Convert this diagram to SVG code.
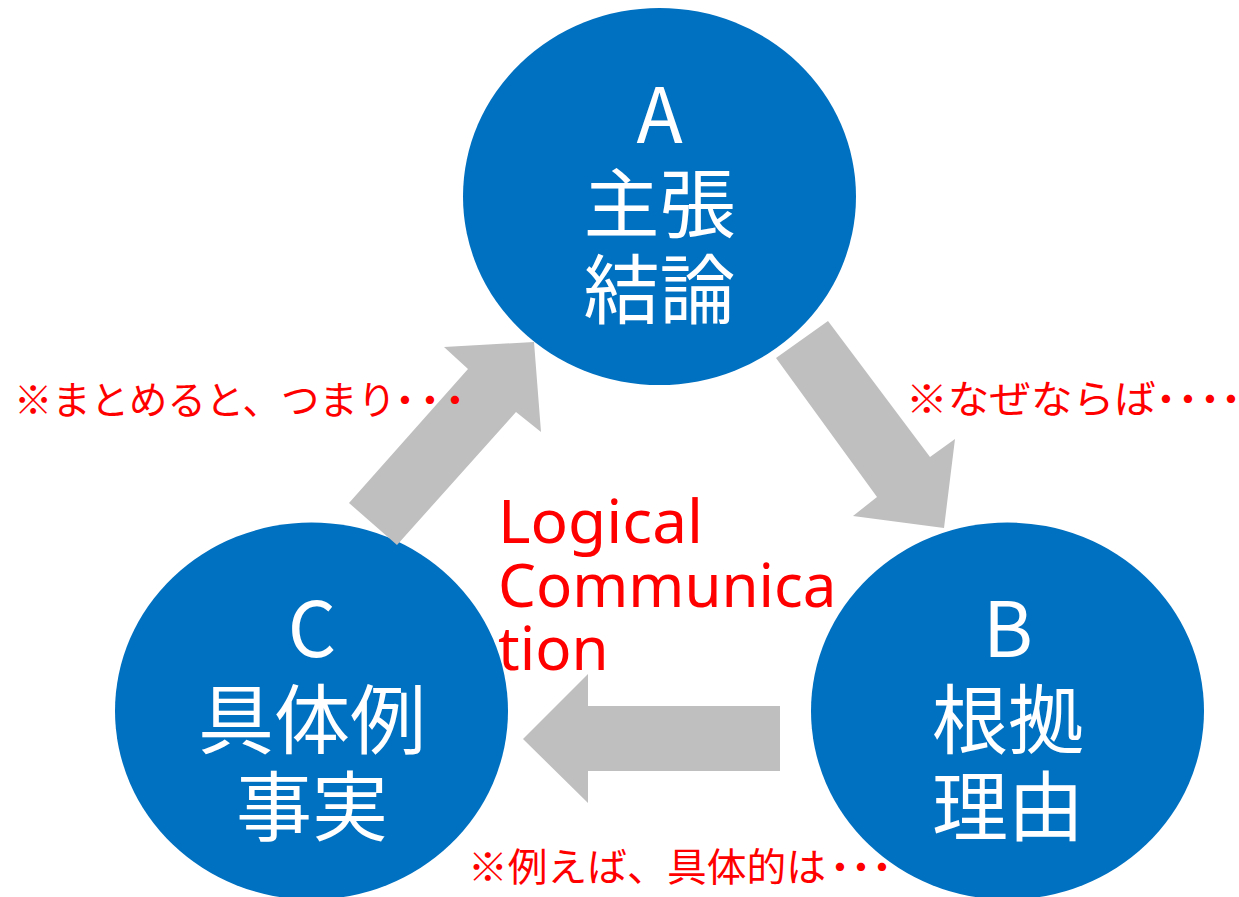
<svg xmlns="http://www.w3.org/2000/svg" width="1239" height="897" viewBox="0 0 1239 897">
<style>
.node{fill:#0070C0}
.nt{fill:#FFFFFF;font-family:"Noto Sans CJK JP","Noto Sans",sans-serif;font-size:76px;text-anchor:middle}
.arrow{fill:#BFBFBF}
.note{fill:#FF0000;font-family:"Noto Sans CJK JP","Noto Sans",sans-serif;font-size:39px}
.title{fill:#FF0000;font-family:"Noto Sans","Noto Sans CJK JP",sans-serif;font-size:60px}
</style>
<rect width="1239" height="897" fill="#FFFFFF"/>
<g id="nodeA">
<ellipse class="node" cx="659.5" cy="196.5" rx="196.5" ry="188.5"/>
<text class="nt" x="659.5" y="143">A</text>
<text class="nt" x="659.5" y="232">主張</text>
<text class="nt" x="659.5" y="318">結論</text>
</g>
<g id="nodeB">
<ellipse class="node" cx="1007.5" cy="711" rx="196.5" ry="188.5"/>
<text class="nt" x="1008" y="657">B</text>
<text class="nt" x="1008" y="748">根拠</text>
<text class="nt" x="1008" y="835">理由</text>
</g>
<g id="nodeC">
<ellipse class="node" cx="311.5" cy="711" rx="196.5" ry="188.5"/>
<text class="nt" x="312" y="657">C</text>
<text class="nt" x="312" y="748">具体例</text>
<text class="nt" x="312" y="835">事実</text>
</g>
<g id="connectors">
<polygon class="arrow" points="349,503 397,545 516,412 541,432 534,342 444,347 468,369"/>
<polygon class="arrow" points="776,358 828,321 930,457 955,439 944,528 853,516 877,497"/>
<polygon class="arrow" points="780,706 780,771 588,771 588,803 523,739 588,674 588,706"/>
</g>
<g id="labels">
<text class="note" y="414"><tspan x="14" textLength="382" lengthAdjust="spacingAndGlyphs">※まとめると、つまり</tspan><tspan x="385.5">・</tspan><tspan x="410.5">・</tspan><tspan x="435.5">・</tspan></text>
<text class="note" y="413"><tspan x="906" textLength="250" lengthAdjust="spacingAndGlyphs">※なぜならば</tspan><tspan x="1146.5">・</tspan><tspan x="1168.5">・</tspan><tspan x="1190.5">・</tspan><tspan x="1211.5">・</tspan></text>
<text class="note" y="881"><tspan x="468" textLength="358" lengthAdjust="spacingAndGlyphs">※例えば、具体的は</tspan><tspan x="820.5">・</tspan><tspan x="841.5">・</tspan><tspan x="862.5">・</tspan></text>
<text class="title" x="498" y="543" textLength="205" lengthAdjust="spacingAndGlyphs">Logical</text>
<text class="title" x="498" y="607">Communica</text>
<text class="title" x="498" y="670">tion</text>
</g>
</svg>
